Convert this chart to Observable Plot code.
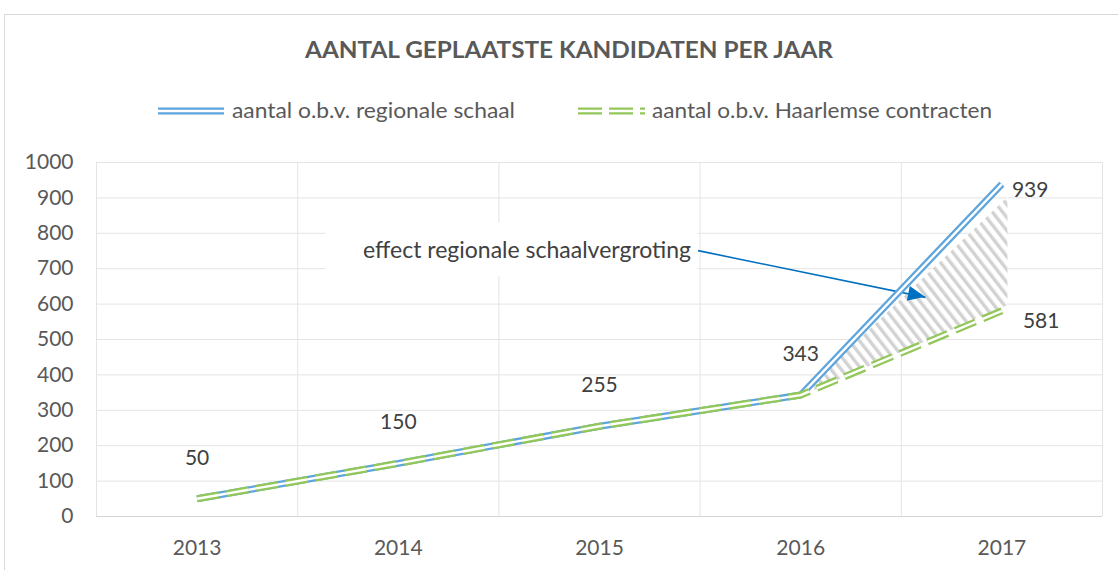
<!DOCTYPE html>
<html><head><meta charset="utf-8">
<script src="https://cdn.jsdelivr.net/npm/d3@7"></script>
<script src="https://cdn.jsdelivr.net/npm/@observablehq/plot@0.6"></script>
<style>
html,body{margin:0;padding:0;background:#fff;width:1118px;height:570px;overflow:hidden;font-family:Lato,"Open Sans",sans-serif;}
#frame{position:absolute;left:4px;top:14px;width:1200px;height:600px;border:1px solid #d9d9d9;}
#header{position:absolute;left:0;top:0;}
#chart{position:absolute;left:0;top:140px;}
</style></head><body>
<div id="frame"></div>
<svg id="header" width="1118" height="140"></svg>
<div id="chart"></div>
<script>
// ---- data ----
const years = [2013, 2014, 2015, 2016, 2017];
const regionaal = [50, 150, 255, 343, 939];
const haarlem = [50, 150, 255, 343, 581];
const yTicks = [0, 100, 200, 300, 400, 500, 600, 700, 800, 900, 1000];
const categoryEdges = [2012.5, 2013.5, 2014.5, 2015.5, 2016.5, 2017.5];
const titleText = "AANTAL GEPLAATSTE KANDIDATEN PER JAAR";
const legendLabels = ["aantal o.b.v. regionale schaal", "aantal o.b.v. Haarlemse contracten"];
const annotationText = "effect regionale schaalvergroting";
const annotationAt = [{x: 2014.64, y: 751}];
const annotationBox = [{x1: 2013.64, x2: 2015.49, y1: 678, y2: 830}];
const arrowLink = [{x1: 2015.49, y1: 751, x2: 2016.62, y2: 619}];
const hatchX = [2016.07, 2017.03];
const hatchLow = [356, 596];
const hatchHigh = [378, 901];

// ---- colours ----
const BLUE = "#5da5dc", GREEN = "#93c75a", TXT = "#404040", AX = "#595959";
const FONT = "Lato, 'Open Sans', sans-serif";

const rows = years.map((y, i) => ({year: y, reg: regionaal[i], haa: haarlem[i]}));
const hatch = hatchX.map((x, i) => ({x, lo: hatchLow[i], hi: hatchHigh[i]}));
const n = years.length;
const lineStyle = {strokeLinejoin: "miter", strokeLinecap: "butt"};

const chart = Plot.plot({
  width: 1118,
  height: 430,
  marginLeft: 96,
  marginRight: 16,
  marginTop: 22,
  marginBottom: 54,
  style: {fontFamily: FONT, fontSize: "21px", color: AX, background: "transparent"},
  x: {domain: [2012.5, 2017.5], ticks: years, tickFormat: d => String(d), tickSize: 0, tickPadding: 24, label: null},
  y: {domain: [0, 1000], ticks: yTicks, tickFormat: d => String(d), tickSize: 0, tickPadding: 23, label: null},
  marks: [
    Plot.ruleX(categoryEdges, {stroke: "#e4e4e4", strokeWidth: 1}),
    Plot.ruleY(yTicks.slice(1), {stroke: "#e4e4e4", strokeWidth: 1}),
    Plot.ruleY([0], {stroke: "#d4d4d4", strokeWidth: 1}),
    Plot.areaY(hatch, {x: "x", y1: "lo", y2: "hi", fill: "#010203", curve: "linear"}),
    Plot.rect(annotationBox, {x1: "x1", x2: "x2", y1: "y1", y2: "y2", fill: "white"}),
    Plot.text(annotationAt, {x: "x", y: "y", text: () => annotationText, fill: TXT, fontSize: 23}),
    Plot.link(arrowLink, {x1: "x1", y1: "y1", x2: "x2", y2: "y2", stroke: "#0070c0", strokeWidth: 1.6}),
    // blue double line
    Plot.line(rows, {x: "year", y: "reg", stroke: BLUE, strokeWidth: 7, ...lineStyle}),
    Plot.line(rows, {x: "year", y: "reg", stroke: "white", strokeWidth: 2.4, ...lineStyle}),
    // green dashed double line
    Plot.line(rows, {x: "year", y: "haa", stroke: GREEN, strokeWidth: 7, strokeDasharray: "22,8", ...lineStyle}),
    Plot.line(rows, {x: "year", y: "haa", stroke: "white", strokeWidth: 2.4, strokeDasharray: "22,8", ...lineStyle}),
    // data labels
    Plot.text(rows.slice(0, n - 1), {x: "year", y: "haa", text: d => String(d.haa), dy: -41, fill: TXT, fontSize: 21}),
    Plot.text(rows.slice(n - 1), {x: "year", y: "reg", text: d => String(d.reg), dx: 10, dy: 6, textAnchor: "start", fill: TXT, fontSize: 21}),
    Plot.text(rows.slice(n - 1), {x: "year", y: "haa", text: d => String(d.haa), dx: 21, dy: 10, textAnchor: "start", fill: TXT, fontSize: 21})
  ]
});
document.getElementById("chart").append(chart);

// hatch pattern
const svg = d3.select(chart);
const defs = svg.insert("defs", ":first-child");
const pat = defs.append("pattern").attr("id", "hatch").attr("patternUnits", "userSpaceOnUse")
  .attr("width", 8).attr("height", 10).attr("patternTransform", "rotate(-38)");
pat.append("rect").attr("width", 8).attr("height", 10).attr("fill", "white");
pat.append("rect").attr("width", 3.4).attr("height", 10).attr("fill", "#d2d2d2");
svg.selectAll('[fill="#010203"]').attr("fill", "url(#hatch)");

// filled arrowhead
const sx = chart.scale("x"), sy = chart.scale("y");
const a = arrowLink[0];
const X0 = sx.apply(a.x1), Y0 = sy.apply(a.y1), X1 = sx.apply(a.x2), Y1 = sy.apply(a.y2);
const ang = Math.atan2(Y1 - Y0, X1 - X0);
const L = 17, W = 7.5;
const bx = X1 - L * Math.cos(ang), by = Y1 - L * Math.sin(ang);
const px = -Math.sin(ang), py = Math.cos(ang);
svg.append("path")
  .attr("d", `M${X1},${Y1}L${bx + W * px},${by + W * py}L${bx - W * px},${by - W * py}Z`)
  .attr("fill", "#0070c0");

// header: title + legend
const h = d3.select("#header");
h.append("text").attr("x", 569).attr("y", 58).attr("text-anchor", "middle")
  .attr("font-family", FONT).attr("font-size", 23).attr("font-weight", "bold").attr("fill", AX)
  .attr("textLength", 528).attr("lengthAdjust", "spacingAndGlyphs").text(titleText);
// blue swatch
h.append("line").attr("x1", 158).attr("x2", 224).attr("y1", 111).attr("y2", 111).attr("stroke", BLUE).attr("stroke-width", 7);
h.append("line").attr("x1", 158).attr("x2", 224).attr("y1", 111).attr("y2", 111).attr("stroke", "white").attr("stroke-width", 2.4);
h.append("text").attr("x", 232).attr("y", 118).attr("font-family", FONT).attr("font-size", 21).attr("fill", AX)
  .attr("textLength", 283).attr("lengthAdjust", "spacingAndGlyphs").text(legendLabels[0]);
// green swatch
h.append("line").attr("x1", 578).attr("x2", 645).attr("y1", 111).attr("y2", 111).attr("stroke", GREEN).attr("stroke-width", 7).attr("stroke-dasharray", "24,7");
h.append("line").attr("x1", 578).attr("x2", 645).attr("y1", 111).attr("y2", 111).attr("stroke", "white").attr("stroke-width", 2.4).attr("stroke-dasharray", "24,7");
h.append("text").attr("x", 652).attr("y", 118).attr("font-family", FONT).attr("font-size", 21).attr("fill", AX)
  .attr("textLength", 340).attr("lengthAdjust", "spacingAndGlyphs").text(legendLabels[1]);
</script>
</body></html>
